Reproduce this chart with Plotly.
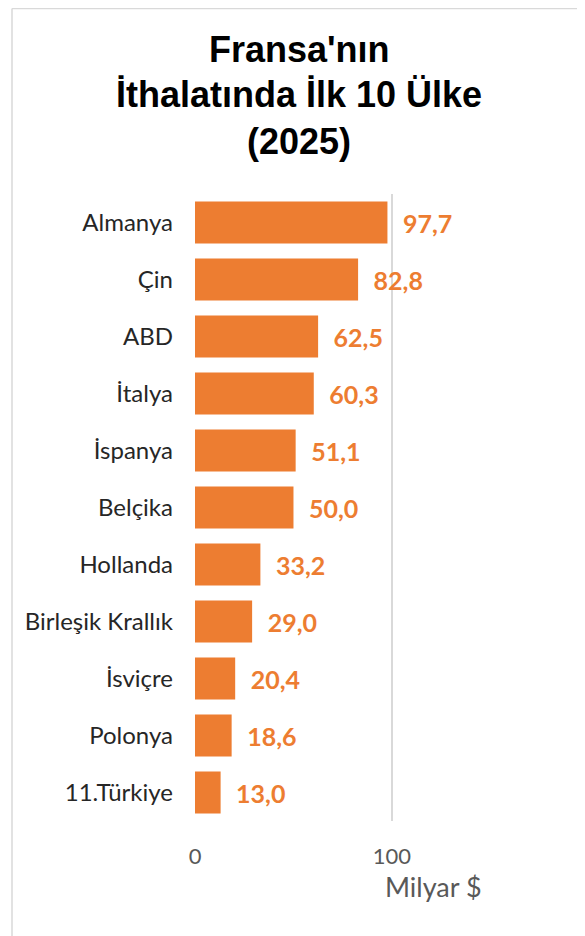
import plotly.graph_objects as go

# data
countries = ["Almanya", "Çin", "ABD", "İtalya", "İspanya", "Belçika",
             "Hollanda", "Birleşik Krallık", "İsviçre", "Polonya", "11.Türkiye"]
imports_bn = [97.7, 82.8, 62.5, 60.3, 51.1, 50.0, 33.2, 29.0, 20.4, 18.6, 13.0]
title_lines = ["Fransa'nın", "İthalatında İlk 10 Ülke", "(2025)"]
x_ticks = [0, 100]
x_title = "Milyar $"

# page body adds an 8px margin, so the figure is sized to fit the window
OFF = 8
W, H = 585 - OFF, 936 - OFF
# plot area in screen pixels: x 195..585, y 194..821
L, R = 195 - OFF, 0
T, B = 194 - OFF, H - (821 - OFF)
TITLE_FONT = "Liberation Sans"
FONT = "Lato"
ORANGE = "#ED7D31"
BORDER = "#D9D9D9"

def px_x(sx):
    # screen x -> paper x
    return (sx - OFF - L) / (W - L - R)

def px_y(sy):
    # screen y -> paper y
    return (H - B - (sy - OFF)) / (H - T - B)

labels = ["\u2002" + f"{v:.1f}".replace(".", ",") for v in imports_bn]

fig = go.Figure()
fig.add_trace(go.Bar(
    x=imports_bn, y=countries, orientation="h",
    marker=dict(color=ORANGE, line=dict(width=0)),
    width=0.74,
    text=labels, textposition="outside", cliponaxis=False,
    textfont=dict(family=FONT, size=25, color=ORANGE, weight="bold"),
))

annotations = []
for line, yc in zip(title_lines, [49, 95, 141]):
    annotations.append(dict(
        text=f"<b>{line}</b>", x=px_x(299), y=px_y(yc), xref="paper", yref="paper",
        xanchor="center", yanchor="middle", showarrow=False,
        font=dict(family=TITLE_FONT, size=36, color="#000000"),
    ))

annotations.append(dict(
    text=x_title, x=px_x(433), y=px_y(886), xref="paper", yref="paper",
    xanchor="center", yanchor="middle", showarrow=False,
    font=dict(family=FONT, size=27, color="#595959"),
))

shapes = [
    dict(type="line", xref="paper", yref="paper", x0=px_x(12), x1=px_x(12),
         y0=px_y(8.5), y1=px_y(940), line=dict(color=BORDER, width=1.5)),
    dict(type="line", xref="paper", yref="paper", x0=px_x(12), x1=px_x(590),
         y0=px_y(8.5), y1=px_y(8.5), line=dict(color=BORDER, width=1.5)),
]

fig.update_layout(
    width=W, height=H,
    margin=dict(l=L, r=R, t=T, b=B),
    paper_bgcolor="white", plot_bgcolor="white",
    showlegend=False,
    annotations=annotations,
    shapes=shapes,
    font=dict(family=FONT),
)
fig.update_xaxes(
    range=[0, 198], tickvals=x_ticks, showgrid=True, gridcolor=BORDER, gridwidth=1.5,
    zeroline=False, showline=False, ticks="",
    tickfont=dict(family=FONT, size=22, color="#595959"),
    ticklabelstandoff=20,
)
fig.update_yaxes(
    categoryorder="array", categoryarray=countries, autorange="reversed",
    showgrid=False, showline=False, ticks="",
    tickfont=dict(family=FONT, size=24, color="#262626"),
    ticklabelstandoff=21,
)

fig.write_html("out.html")
